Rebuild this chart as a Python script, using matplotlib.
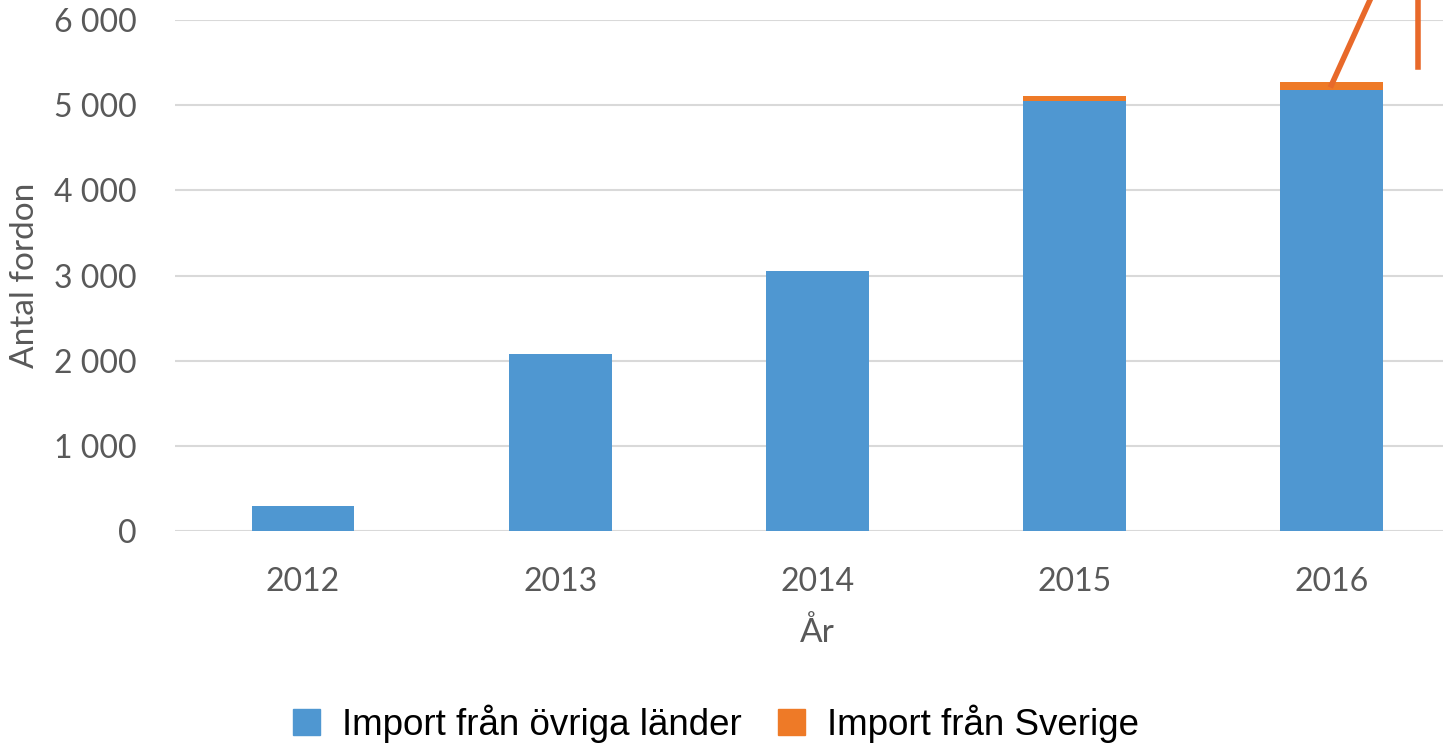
import numpy as np
import matplotlib.pyplot as plt
from matplotlib import font_manager
from matplotlib.patches import Patch

years = ['2012', '2013', '2014', '2015', '2016']
ovriga = [295, 2080, 3055, 5050, 5178]
sverige = [0, 0, 0, 60, 95]
yticks = [0, 1000, 2000, 3000, 4000, 5000, 6000]
ytick_labels = ['0', '1 000', '2 000', '3 000', '4 000', '5 000', '6 000']

blue = '#4F97D1'
orange = '#EE7A27'
grey = '#595959'

names = {f.name for f in font_manager.fontManager.ttflist}
tick_font = 'Lato' if 'Lato' in names else 'DejaVu Sans'
leg_font = 'Liberation Sans Narrow' if 'Liberation Sans Narrow' in names else 'Liberation Sans'

W, H = 1443, 745
fig = plt.figure(figsize=(W / 100, H / 100), dpi=100)
# axes runs a bit past the right edge of the picture (cropped original)
ax = fig.add_axes([174.5 / W, 214 / H, (1460 - 174.5) / W, 511 / H])

x = np.arange(len(years))
ax.bar(x, ovriga, width=0.4, color=blue, zorder=3)
ax.bar(x, sverige, width=0.4, bottom=ovriga, color=orange, zorder=3)

ax.set_xlim(-0.5, 4.5)
ax.set_ylim(0, 6000)
ax.set_yticks(yticks)
ax.set_yticklabels(ytick_labels)
ax.set_xticks(x)
ax.set_xticklabels(years)
ax.grid(axis='y', color='#D9D9D9', linewidth=1.5, zorder=0)
ax.axhline(0, color='#D9D9D9', linewidth=2, zorder=1)
for s in ax.spines.values():
    s.set_visible(False)
ax.tick_params(length=0, labelsize=23, labelcolor=grey)
ax.tick_params(axis='y', pad=27)
ax.tick_params(axis='x', pad=26)
for lab in ax.get_xticklabels() + ax.get_yticklabels():
    lab.set_fontfamily(tick_font)

ax.set_ylabel('Antal fordon', fontsize=24, color=grey, fontfamily=tick_font, labelpad=10)
ax.set_xlabel('År', fontsize=24, color=grey, fontfamily=tick_font, labelpad=14)

# leftover callout lines from the original graphic
ax.plot([4.0, 4.15], [5237, 6235], color='#E8692A', linewidth=4, clip_on=False, zorder=4)
ax.plot([4.337, 4.337], [5448, 6235], color='#E8692A', linewidth=4, clip_on=False, zorder=4)

handles = [Patch(color=blue), Patch(color=orange)]
fig.legend(handles, ['Import från övriga länder', 'Import från Sverige'],
           loc='center', bbox_to_anchor=(716 / W, 1 - 724 / H), ncol=2, frameon=False,
           prop={'family': leg_font, 'size': 26.5}, handlelength=0.72, handleheight=0.72,
           handletextpad=0.6, columnspacing=1.0)

fig.savefig('out.png', dpi=100)
